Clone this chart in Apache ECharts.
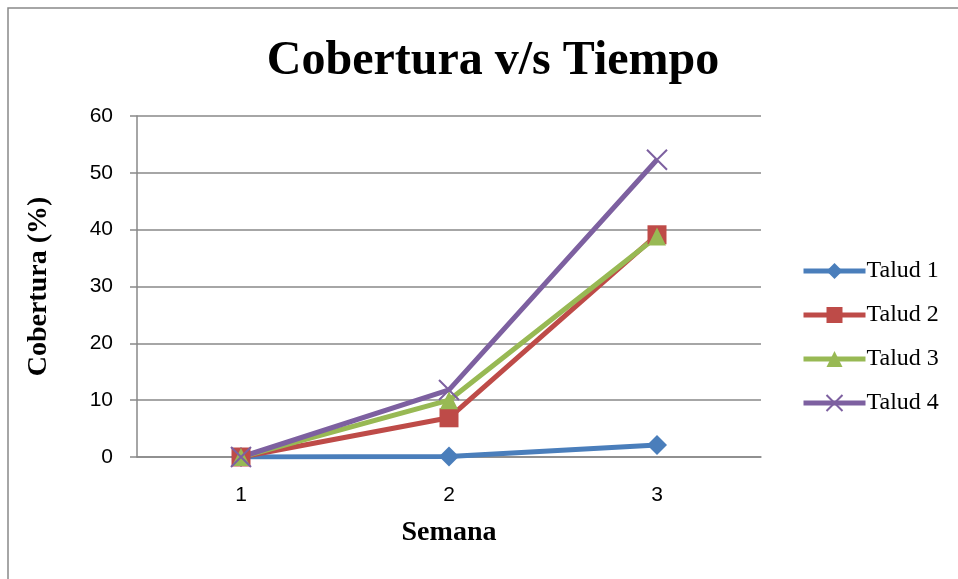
<!DOCTYPE html>
<html>
<head>
<meta charset="utf-8">
<script src="https://cdn.jsdelivr.net/npm/echarts@6/dist/echarts.min.js"></script>
<style>
  html, body { margin: 0; padding: 0; background: #fff; }
  #chart { width: 958px; height: 579px; }
</style>
</head>
<body>
<div id="chart"></div>
<script>
const semanas = ["1", "2", "3"];
const talud1 = [0, 0.1, 2.1];
const talud2 = [0, 6.9, 39.1];
const talud3 = [0, 10, 38.8];
const talud4 = [0, 11.8, 52.3];
const yTicks = [0, 10, 20, 30, 40, 50, 60];

const serif = "'Liberation Serif', 'Times New Roman', serif";
const sans = "'Liberation Sans', Arial, sans-serif";
const cross = "path://M0,0L10,10M10,0L0,10";

const mkSeries = (name, data, color, symbol, size) => ({
  name: name,
  type: "line",
  data: data,
  symbol: symbol,
  symbolSize: size,
  lineStyle: { color: color, width: 5 },
  itemStyle: { color: color, borderColor: color, borderWidth: symbol === cross ? 2 : 0 },
  emphasis: { disabled: true },
  z: 2
});

var myChart = echarts.init(document.getElementById("chart"));
myChart.setOption({
  animation: false,
  title: {
    text: "Cobertura v/s Tiempo",
    left: 488,
    top: 33,
    textAlign: "center",
    textStyle: { fontFamily: serif, fontSize: 48, fontWeight: "bold", color: "#000" }
  },
  legend: {
    orient: "vertical",
    left: 796,
    top: 254,
    itemWidth: 62,
    itemHeight: 20,
    itemGap: 20,
    lineStyle: { width: 5 },
    textStyle: { fontFamily: serif, fontSize: 24, color: "#000", padding: [0, 0, 0, -4] },
    data: ["Talud 1", "Talud 2", "Talud 3", "Talud 4"]
  },
  grid: { left: 137, right: 197, top: 116, bottom: 122 },
  xAxis: {
    type: "category",
    data: semanas,
    name: "Semana",
    nameLocation: "middle",
    nameGap: 62,
    nameTextStyle: { fontFamily: serif, fontSize: 28, fontWeight: "bold", color: "#000" },
    axisLine: { lineStyle: { color: "#898989", width: 1.5 } },
    axisTick: { show: false },
    axisLabel: { fontFamily: sans, fontSize: 21, color: "#000", margin: 28 }
  },
  yAxis: {
    type: "value",
    min: yTicks[0],
    max: yTicks[yTicks.length - 1],
    interval: 10,
    name: "Cobertura (%)",
    nameLocation: "middle",
    nameGap: 84,
    nameTextStyle: { fontFamily: serif, fontSize: 28, fontWeight: "bold", color: "#000" },
    axisLine: { show: true, lineStyle: { color: "#898989", width: 1.5 } },
    axisTick: { show: true, length: 7, lineStyle: { color: "#898989", width: 1.5 } },
    splitLine: { lineStyle: { color: "#898989", width: 1.5 } },
    axisLabel: { fontFamily: sans, fontSize: 21, color: "#000", margin: 24 }
  },
  graphic: [
    {
      type: "polyline",
      shape: { points: [[8, 579], [8, 8], [958, 8]] },
      style: { stroke: "#898989", lineWidth: 1.5, fill: null }
    }
  ],
  series: [
    mkSeries("Talud 1", talud1, "#4a7ebb", "diamond", 20),
    mkSeries("Talud 2", talud2, "#be4b48", "rect", 19),
    mkSeries("Talud 3", talud3, "#98b954", "triangle", 18),
    mkSeries("Talud 4", talud4, "#7d60a0", cross, 20)
  ]
});

window.addEventListener("resize", () => {
  myChart.resize();
});
</script>
</body>
</html>
